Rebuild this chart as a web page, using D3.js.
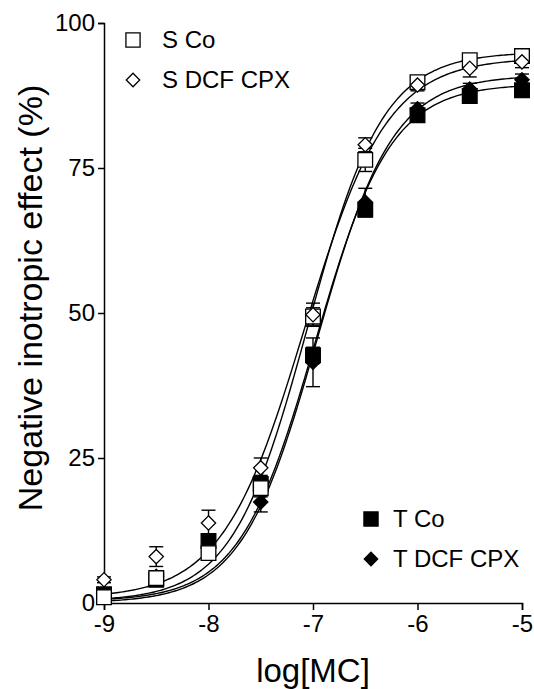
<!DOCTYPE html>
<html>
<head>
<meta charset="utf-8">
<script src="https://cdn.jsdelivr.net/npm/d3@7"></script>
<style>
  body { margin: 0; background: #fff; }
  text { font-family: "Liberation Sans", Arial, sans-serif; fill: #000; }
</style>
</head>
<body>
<svg width="534" height="689"></svg>
<script>
// log concentrations
var logMC = [-9, -8.5, -8, -7.5, -7, -6.5, -6, -5.5, -5];

// mean values (%) and error (SEM) per group
var sCo      = [1.0, 4.3, 8.6, 19.8, 49.4, 76.4, 89.8, 93.6, 94.3];
var sCoErr   = [0.5, 0.8, 1.0, 1.5, 1.5, 2.0, 1.0, 1.0, 0.8];
var sDcf     = [4.0, 8.0, 13.8, 23.3, 49.7, 79.0, 89.3, 92.2, 93.3];
var sDcfErr  = [0.5, 1.7, 2.2, 1.7, 2.0, 1.2, 1.0, 1.5, 1.0];
var tCo      = [1.5, 4.0, 10.7, 20.5, 42.7, 67.8, 84.1, 87.4, 88.4];
var tCoErr   = [0.5, 0.8, 1.0, 1.5, 1.4, 1.2, 1.0, 1.0, 1.0];
var tDcf     = [1.0, 4.6, 9.5, 17.4, 41.5, 69.1, 85.2, 88.6, 90.2];
var tDcfErr  = [0.5, 0.8, 1.0, 1.7, 4.2, 2.4, 1.0, 1.0, 1.0];

// sigmoidal fit parameters: [bottom, top, logEC50, hill]
var sCoFit  = [0.3, 95.0, -7.05, 1.2];
var sDcfFit = [0.8, 94.0, -7.08, 1.1];
var tCoFit  = [0.3, 89.5, -6.98, 1.2];
var tDcfFit = [0.0, 91.0, -6.96, 1.2];

var xTicks = [-9, -8, -7, -6, -5];
var yTicks = [0, 25, 50, 75, 100];

var svg = d3.select("svg");
var x = d3.scaleLinear().domain([-9, -5]).range([104, 522]);
var y = d3.scaleLinear().domain([0, 100]).range([603, 23]);

// axes
var gx = svg.append("g").attr("transform", "translate(0,603)")
  .call(d3.axisBottom(x).tickValues(xTicks).tickSize(7).tickPadding(5));
var gy = svg.append("g").attr("transform", "translate(104,0)")
  .call(d3.axisLeft(y).tickValues(yTicks).tickSize(6).tickPadding(3));
[gx, gy].forEach(function(g) {
  g.select(".domain").attr("stroke", "#000").attr("stroke-width", 1.5);
  g.selectAll(".tick line").attr("stroke", "#000").attr("stroke-width", 1.5);
  g.selectAll(".tick text").style("font-size", "24px").attr("fill", "#000")
    .style("font-family", "Liberation Sans, Arial, sans-serif");
});
gx.selectAll(".tick text").text(function(d) { return d < 0 ? "-" + Math.abs(d) : d; });

svg.append("text").attr("x", 313).attr("y", 682).attr("text-anchor", "middle")
  .style("font-size", "33px").text("log[MC]");
svg.append("text").attr("transform", "translate(42,298) rotate(-90)").attr("text-anchor", "middle")
  .style("font-size", "34px").text("Negative inotropic effect (%)");

// fitted curves
var curveX = d3.range(-9, -4.999, 0.02);
function fitFn(p) {
  return function(v) { return p[0] + (p[1] - p[0]) / (1 + Math.pow(10, (p[2] - v) * p[3])); };
}
var line = d3.line().x(function(d) { return x(d[0]); }).y(function(d) { return y(d[1]); });
[sCoFit, sDcfFit, tCoFit, tDcfFit].forEach(function(p) {
  var f = fitFn(p);
  svg.append("path").datum(curveX.map(function(v) { return [v, f(v)]; }))
    .attr("d", line).attr("fill", "none").attr("stroke", "#000").attr("stroke-width", 1.4);
});

var groups = [
  {vals: tCo, err: tCoErr, shape: d3.symbolSquare, fill: "#000", size: 215},
  {vals: tDcf, err: tDcfErr, shape: d3.symbolDiamond2, fill: "#000", size: 130},
  {vals: sCo, err: sCoErr, shape: d3.symbolSquare, fill: "#fff", size: 215},
  {vals: sDcf, err: sDcfErr, shape: d3.symbolDiamond2, fill: "#fff", size: 130}
];

// error bars
groups.forEach(function(g) {
  var eb = svg.append("g").attr("stroke", "#000").attr("stroke-width", 1.4);
  logMC.forEach(function(lx, i) {
    var cx = x(lx), lo = y(g.vals[i] - g.err[i]), hi = y(g.vals[i] + g.err[i]);
    eb.append("line").attr("x1", cx).attr("x2", cx).attr("y1", lo).attr("y2", hi);
    eb.append("line").attr("x1", cx - 7).attr("x2", cx + 7).attr("y1", lo).attr("y2", lo);
    eb.append("line").attr("x1", cx - 7).attr("x2", cx + 7).attr("y1", hi).attr("y2", hi);
  });
});

// symbols
groups.forEach(function(g) {
  svg.append("g").selectAll("path").data(logMC).enter().append("path")
    .attr("transform", function(d, i) { return "translate(" + x(d) + "," + y(g.vals[i]) + ")"; })
    .attr("d", d3.symbol().type(g.shape).size(g.size))
    .attr("fill", g.fill).attr("stroke", "#000").attr("stroke-width", 1.3);
});

// legends
var legend = [
  {label: "S Co", shape: d3.symbolSquare, fill: "#fff", size: 200, sx: 133, tx: 162, y: 40},
  {label: "S DCF CPX", shape: d3.symbolDiamond2, fill: "#fff", size: 115, sx: 133, tx: 162, y: 80},
  {label: "T Co", shape: d3.symbolSquare, fill: "#000", size: 200, sx: 371, tx: 393, y: 519},
  {label: "T DCF CPX", shape: d3.symbolDiamond2, fill: "#000", size: 115, sx: 371, tx: 393, y: 559}
];
legend.forEach(function(l) {
  svg.append("path").attr("transform", "translate(" + l.sx + "," + l.y + ")")
    .attr("d", d3.symbol().type(l.shape).size(l.size))
    .attr("fill", l.fill).attr("stroke", "#000").attr("stroke-width", 1.3);
  svg.append("text").attr("x", l.tx).attr("y", l.y + 8).style("font-size", "24px").text(l.label);
});
</script>
</body>
</html>
